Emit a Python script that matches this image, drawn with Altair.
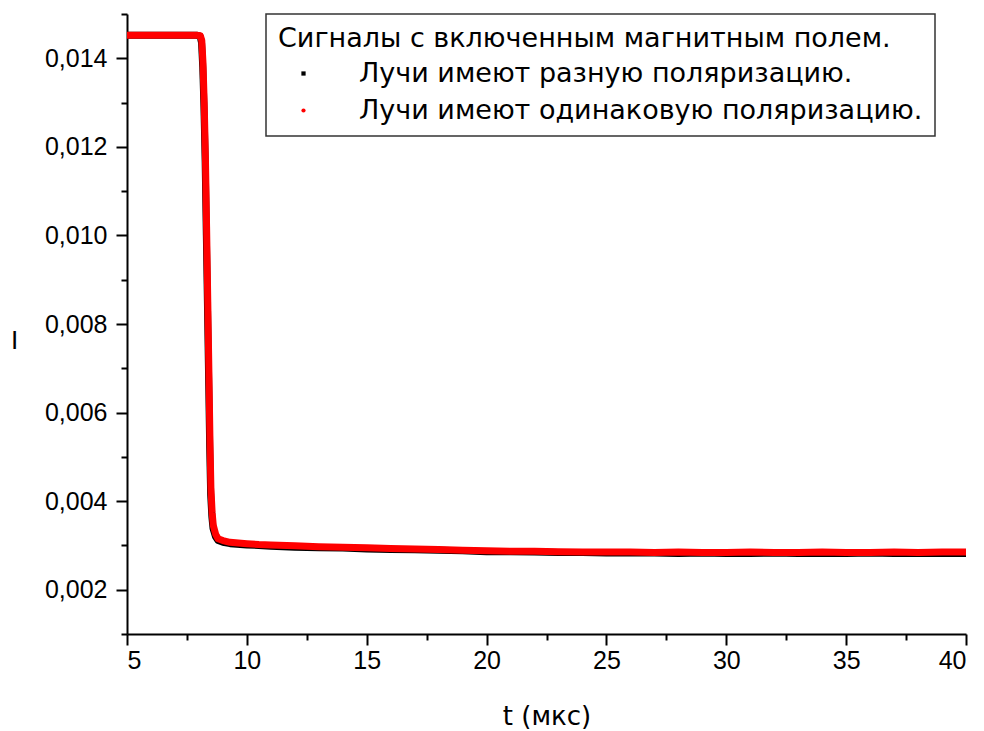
import altair as alt
import pandas as pd

FONT = "Liberation Sans"
FONT2 = "DejaVu Sans"

s_black = "Лучи имеют разную поляризацию."
s_red = "Лучи имеют одинаковую поляризацию."
legend_title = "Сигналы с включенным магнитным полем."

# red series (same polarisation)
t_red = [5.0, 6.0, 7.0, 7.9, 8.06, 8.12, 8.17, 8.22, 8.27, 8.32, 8.37, 8.42, 8.46, 8.50,
         8.55, 8.60, 8.70, 8.80, 9.0, 9.3, 10.0, 10.5, 11.0, 12.0, 13.0, 14.0, 15.0, 16.0,
         17.0, 18.0, 19.0, 20.0, 21.0, 22.0, 23.0, 24.0, 25.0, 26.0, 27.0, 28.0, 29.0, 30.0,
         31.0, 32.0, 33.0, 34.0, 35.0, 36.0, 37.0, 38.0, 39.0, 40.0]
i_red = [0.01452, 0.01452, 0.01452, 0.01452, 0.01451, 0.01440, 0.01390, 0.01300, 0.01180,
         0.01020, 0.00850, 0.00680, 0.00540, 0.00430, 0.00375, 0.00345, 0.00325, 0.00315,
         0.00311, 0.00307, 0.00304, 0.00302, 0.00301, 0.00299, 0.00297, 0.00296, 0.00295,
         0.00293, 0.00292, 0.00291, 0.00289, 0.00288, 0.00287, 0.00287, 0.00286, 0.00285,
         0.00285, 0.00285, 0.00284, 0.00285, 0.00284, 0.00284, 0.00285, 0.00284, 0.00284,
         0.00285, 0.00284, 0.00284, 0.00285, 0.00284, 0.00285, 0.00285]

# black series (different polarisation)
t_black = [5.0, 6.0, 7.0, 7.9, 8.05, 8.11, 8.16, 8.21, 8.26, 8.31, 8.36, 8.41, 8.45, 8.49,
           8.54, 8.59, 8.69, 8.80, 9.0, 9.3, 10.0, 10.5, 11.0, 12.0, 13.0, 14.0, 15.0, 16.0,
           17.0, 18.0, 19.0, 20.0, 21.0, 22.0, 23.0, 24.0, 25.0, 26.0, 27.0, 28.0, 29.0, 30.0,
           31.0, 32.0, 33.0, 34.0, 35.0, 36.0, 37.0, 38.0, 39.0, 40.0]
i_black = [0.01452, 0.01452, 0.01452, 0.01452, 0.01450, 0.01435, 0.01380, 0.01290, 0.01170,
           0.01000, 0.00830, 0.00660, 0.00520, 0.00415, 0.00365, 0.00338, 0.00320, 0.00311,
           0.00307, 0.00304, 0.00301, 0.00300, 0.00298, 0.00296, 0.00295, 0.00294, 0.00292,
           0.00291, 0.00290, 0.00289, 0.00288, 0.00286, 0.00286, 0.00285, 0.00284, 0.00284,
           0.00283, 0.00283, 0.00283, 0.00282, 0.00283, 0.00282, 0.00282, 0.00283, 0.00282,
           0.00282, 0.00282, 0.00283, 0.00282, 0.00282, 0.00282, 0.00282]

x_ticks = [5, 7.5, 10, 12.5, 15, 17.5, 20, 22.5, 25, 27.5, 30, 32.5, 35, 37.5, 40]
y_ticks = [0.001, 0.002, 0.003, 0.004, 0.005, 0.006, 0.007, 0.008, 0.009, 0.010,
           0.011, 0.012, 0.013, 0.014, 0.015]

df_red = pd.DataFrame({"t": t_red, "I": i_red, "s": s_red})
df_black = pd.DataFrame({"t": t_black, "I": i_black, "s": s_black})
df_all = pd.concat([df_black, df_red], ignore_index=True)

x_enc = alt.X("t:Q", scale=alt.Scale(domain=[5, 40], nice=False, zero=False),
              axis=alt.Axis(values=x_ticks, title="t (мкс)",
                            labelExpr="datum.value % 5 == 0 ? datum.label : ''",
                            tickSize={"condition": {"test": "datum.value % 5 == 0", "value": 11}, "value": 6},
                            titleY=82, titleBaseline="middle", titleFontSize=26, titleFont=FONT2,
                            labelPadding=3))
y_enc = alt.Y("I:Q", scale=alt.Scale(domain=[0.001, 0.015], nice=False, zero=False),
              axis=alt.Axis(values=y_ticks, title="I", titleAngle=0, titleX=-113, titleY=326,
                            titleAlign="center", titleBaseline="middle", titleFontSize=26,
                            labelExpr="round(datum.value*1000) % 2 == 0 ? replace(format(datum.value, '.3f'), '.', ',') : ''",
                            tickSize={"condition": {"test": "round(datum.value*1000) % 2 == 0", "value": 11}, "value": 6},
                            labelPadding=9))

black_line = alt.Chart(df_black).mark_line(color="black", strokeWidth=7, strokeCap="butt",
                                            strokeJoin="round").encode(x=x_enc, y=y_enc)
red_line = alt.Chart(df_red).mark_line(color="#ff0000", strokeWidth=7, strokeCap="butt",
                                        strokeJoin="round").encode(x=x_enc, y=y_enc)

leg = alt.Legend(title=legend_title, orient="none", legendX=139, legendY=0,
                 padding=12, strokeColor="#333333", titleFontSize=27, titleFont=FONT2,
                 titleFontWeight="normal", titleColor="black", titlePadding=7,
                 titleLimit=2000, labelLimit=2000,
                 labelFontSize=27, labelFont=FONT2, labelColor="black", labelOffset=42,
                 symbolOffset=12, rowPadding=9, symbolSize=18, symbolStrokeWidth=0,
                 symbolOpacity=1)

legend_pts = alt.Chart(df_all).mark_point(filled=True, opacity=0, size=1).encode(
    x=x_enc, y=y_enc,
    color=alt.Color("s:N", scale=alt.Scale(domain=[s_black, s_red], range=["black", "#ff0000"]), legend=leg),
    shape=alt.Shape("s:N", scale=alt.Scale(domain=[s_black, s_red], range=["square", "circle"]), legend=leg),
)

chart = alt.layer(black_line, red_line, legend_pts).properties(
    width=839, height=620,
    autosize=alt.AutoSizeParams(type="none"),
    padding={"left": 127, "top": 14, "right": 18, "bottom": 97},
).configure_view(stroke=None).configure_axis(
    grid=False, domainColor="black", domainWidth=2, tickColor="black", tickWidth=2,
    labelFont=FONT, labelFontSize=25, labelColor="black",
    titleFont=FONT, titleColor="black", titleFontWeight="normal",
).configure_legend(strokeWidth=1.5)

chart.save("out.html", embed_options={"renderer": "svg", "actions": False})
